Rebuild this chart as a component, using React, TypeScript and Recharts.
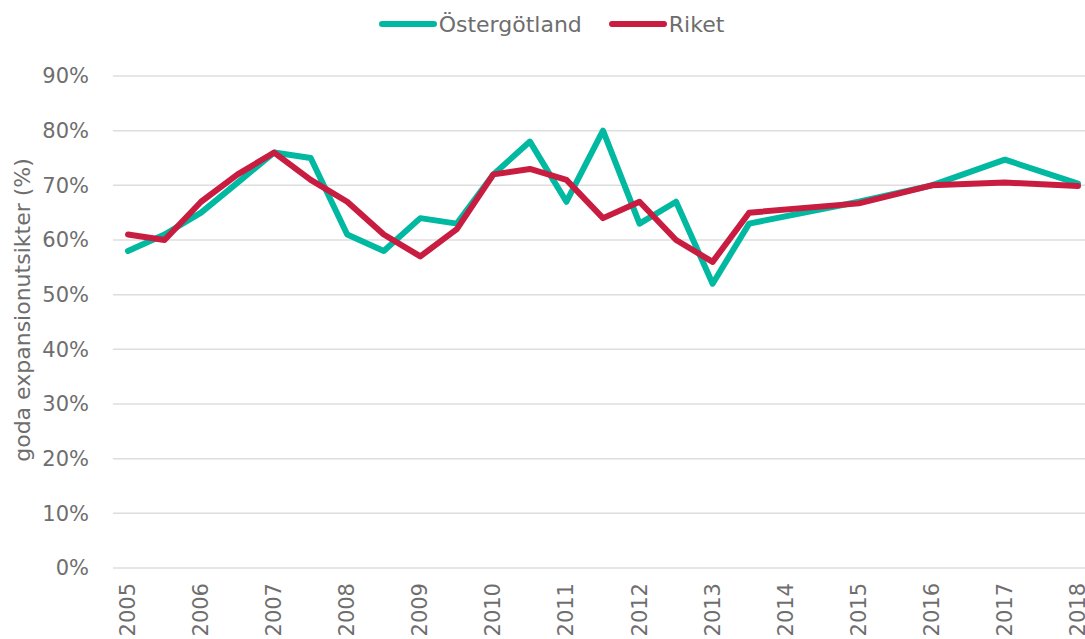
import { LineChart, Line, CartesianGrid, XAxis, YAxis, Legend } from 'recharts'

// Half-year periods 2005–2018; only full years get a tick label
const PERIODS = [
  '2005', '2005:2', '2006', '2006:2', '2007', '2007:2', '2008', '2008:2',
  '2009', '2009:2', '2010', '2010:2', '2011', '2011:2', '2012', '2012:2',
  '2013', '2013:2', '2014', '2014:2', '2015', '2015:2', '2016', '2016:2',
  '2017', '2017:2', '2018',
]

// goda expansionutsikter (%), null = no survey that period
const OSTERGOTLAND = [
  58, 61, 65, 70.5, 76, 75, 61, 58, 64, 63, 72, 78, 67, 80, 63, 67,
  52, 63, null, null, 67, null, 70, null, 74.7, null, 70.3,
]
const RIKET = [
  61, 60, 67, 72, 76, 71, 67, 61, 57, 62, 72, 73, 71, 64, 67, 60,
  56, 65, null, null, 66.7, null, 70, null, 70.5, null, 69.9,
]

const Y_TICKS = [0, 10, 20, 30, 40, 50, 60, 70, 80, 90]

const DATA = PERIODS.map((period, i) => ({
  period,
  ostergotland: OSTERGOTLAND[i],
  riket: RIKET[i],
}))

const TEAL = '#00B9A0'
const RED = '#C81D40'
const GRID = '#DEDEDE'
const TEXT = '#6E6E6E'
const FONT = "'DejaVu Sans', sans-serif"

const SERIES = [
  { key: 'ostergotland', name: 'Östergötland', color: TEAL },
  { key: 'riket', name: 'Riket', color: RED },
]

function YearTick(props: any) {
  const { x, y, payload } = props
  const label = String(payload.value)
  if (label.includes(':')) return null
  return (
    <text
      x={x}
      y={y}
      transform={`rotate(-90, ${x}, ${y})`}
      textAnchor="end"
      dominantBaseline="central"
      fill={TEXT}
      fontSize={21}
      fontFamily={FONT}
    >
      {label}
    </text>
  )
}

function LegendContent() {
  return (
    <div style={{ height: 76, fontFamily: FONT }}>
      <div
        style={{
          height: 48,
          display: 'flex',
          alignItems: 'center',
          justifyContent: 'center',
          paddingLeft: 18,
          gap: 27,
        }}
      >
        {SERIES.map((s) => (
          <div key={s.key} style={{ display: 'flex', alignItems: 'center', gap: 2 }}>
            <span style={{ width: 58, height: 6, borderRadius: 3, background: s.color }} />
            <span style={{ fontSize: 22, color: TEXT }}>{s.name}</span>
          </div>
        ))}
      </div>
    </div>
  )
}

function AxisTitle(props: any) {
  const { viewBox } = props
  const x = viewBox.x + 22
  const y = viewBox.y + viewBox.height / 2 - 12
  return (
    <text
      x={x}
      y={y}
      transform={`rotate(-90, ${x}, ${y})`}
      textAnchor="middle"
      dominantBaseline="central"
      fill={TEXT}
      fontSize={22}
      fontFamily={FONT}
    >
      goda expansionutsikter (%)
    </text>
  )
}

export default function App() {
  return (
    <div style={{ position: 'absolute', left: 0, top: 0, background: '#fff' }}>
      <LineChart
        width={1085}
        height={639}
        data={DATA}
        margin={{ top: 0, right: 0, bottom: 0, left: 0 }}
      >
        <CartesianGrid stroke={GRID} strokeWidth={1.5} vertical={false} />
        <XAxis
          dataKey="period"
          type="category"
          interval={0}
          padding={{ left: 15, right: 7 }}
          height={71}
          axisLine={false}
          tickLine={false}
          tickMargin={9}
          tick={<YearTick />}
        />
        <YAxis
          domain={[0, 90]}
          ticks={Y_TICKS}
          width={113}
          axisLine={false}
          tickLine={false}
          tickMargin={18}
          tickFormatter={(v) => `${v}%`}
          tick={{ fill: TEXT, fontSize: 21, fontFamily: FONT }}
          label={<AxisTitle />}
        />
        <Legend verticalAlign="top" align="center" content={<LegendContent />} />
        {SERIES.map((s) => (
          <Line
            key={s.key}
            type="linear"
            dataKey={s.key}
            name={s.name}
            stroke={s.color}
            strokeWidth={6}
            strokeLinecap="round"
            strokeLinejoin="round"
            dot={false}
            connectNulls
            isAnimationActive={false}
          />
        ))}
      </LineChart>
    </div>
  )
}
